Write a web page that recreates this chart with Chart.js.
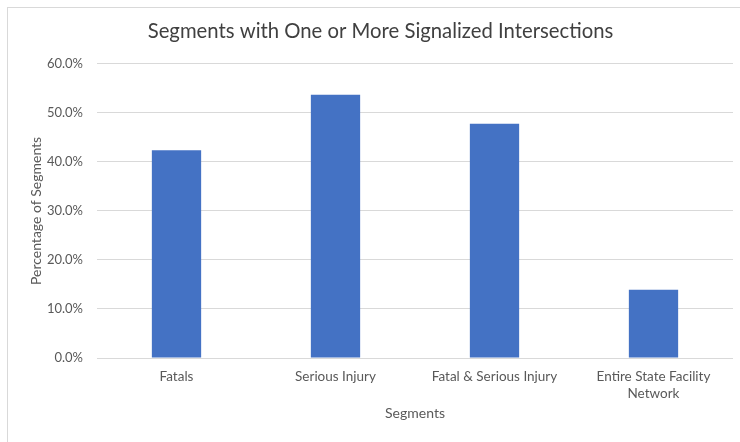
<!DOCTYPE html>
<html>
<head>
<meta charset="utf-8">
<script src="https://cdn.jsdelivr.net/npm/chart.js@4.4.1/dist/chart.umd.min.js"></script>
<style>
  html, body { margin: 0; padding: 0; background: #ffffff; }
  #wrap { position: relative; width: 740px; height: 442px; }
</style>
</head>
<body>
<div id="wrap"><canvas id="chart" width="740" height="442"></canvas></div>
<script>
// Share of segments with one or more signalized intersections
const categories = [
  'Fatals',
  'Serious Injury',
  'Fatal & Serious Injury',
  ['Entire State Facility', 'Network']
];
const percentValues = [42.4, 53.7, 47.8, 13.9];
const yTicks = [0, 10, 20, 30, 40, 50, 60];

const FONT = 'Lato, Carlito, Calibri, "Open Sans", sans-serif';
const GRAY = '#595959';
const GRID = '#d9d9d9';

// light frame around the chart; title centred on the frame
const framePlugin = {
  id: 'frame',
  afterLayout(chart) {
    if (chart.titleBlock) {
      chart.titleBlock.left = 7;
      chart.titleBlock.right = 754;
    }
  },
  beforeDraw(chart) {
    const ctx = chart.ctx;
    ctx.save();
    ctx.fillStyle = '#ffffff';
    ctx.fillRect(0, 0, chart.width, chart.height);
    ctx.strokeStyle = GRID;
    ctx.lineWidth = 1;
    ctx.strokeRect(7.5, 7.5, chart.width, chart.height);
    ctx.restore();
  }
};

new Chart(document.getElementById('chart'), {
  type: 'bar',
  data: {
    labels: categories,
    datasets: [{
      data: percentValues,
      backgroundColor: '#4472c4',
      borderWidth: 0,
      barPercentage: 0.31,
      categoryPercentage: 1.0
    }]
  },
  plugins: [framePlugin],
  options: {
    responsive: false,
    animation: false,
    devicePixelRatio: 1,
    layout: { padding: { left: 0, right: 7, top: 0, bottom: 0 } },
    plugins: {
      legend: { display: false },
      tooltip: { enabled: false },
      title: {
        display: true,
        text: 'Segments with One or More Signalized Intersections',
        color: '#404040',
        font: { family: FONT, size: 20.3, weight: 'normal' },
        padding: { top: 19, bottom: 20.5 }
      }
    },
    scales: {
      x: {
        grid: { display: false, drawTicks: false },
        border: { display: false },
        ticks: {
          color: GRAY,
          font: { family: FONT, size: 13.5 },
          padding: 11,
          maxRotation: 0,
          autoSkip: false
        },
        title: {
          display: true,
          text: 'Segments',
          color: GRAY,
          font: { family: FONT, size: 14 },
          padding: { top: 4, bottom: 20 }
        },
        afterFit(scale) { scale.height = 84; }
      },
      y: {
        min: 0,
        max: 60,
        afterBuildTicks(scale) { scale.ticks = yTicks.map(v => ({ value: v })); },
        grid: { color: GRID, lineWidth: 1, drawTicks: false },
        border: { display: false },
        ticks: {
          color: GRAY,
          font: { family: FONT, size: 13 },
          padding: 14,
          callback: v => Number(v).toFixed(1) + '%'
        },
        title: {
          display: true,
          text: 'Percentage of Segments',
          color: GRAY,
          font: { family: FONT, size: 14 },
          padding: { top: 28, bottom: 0 }
        },
        afterFit(scale) { scale.width = 97; }
      }
    }
  }
});
</script>
</body>
</html>
